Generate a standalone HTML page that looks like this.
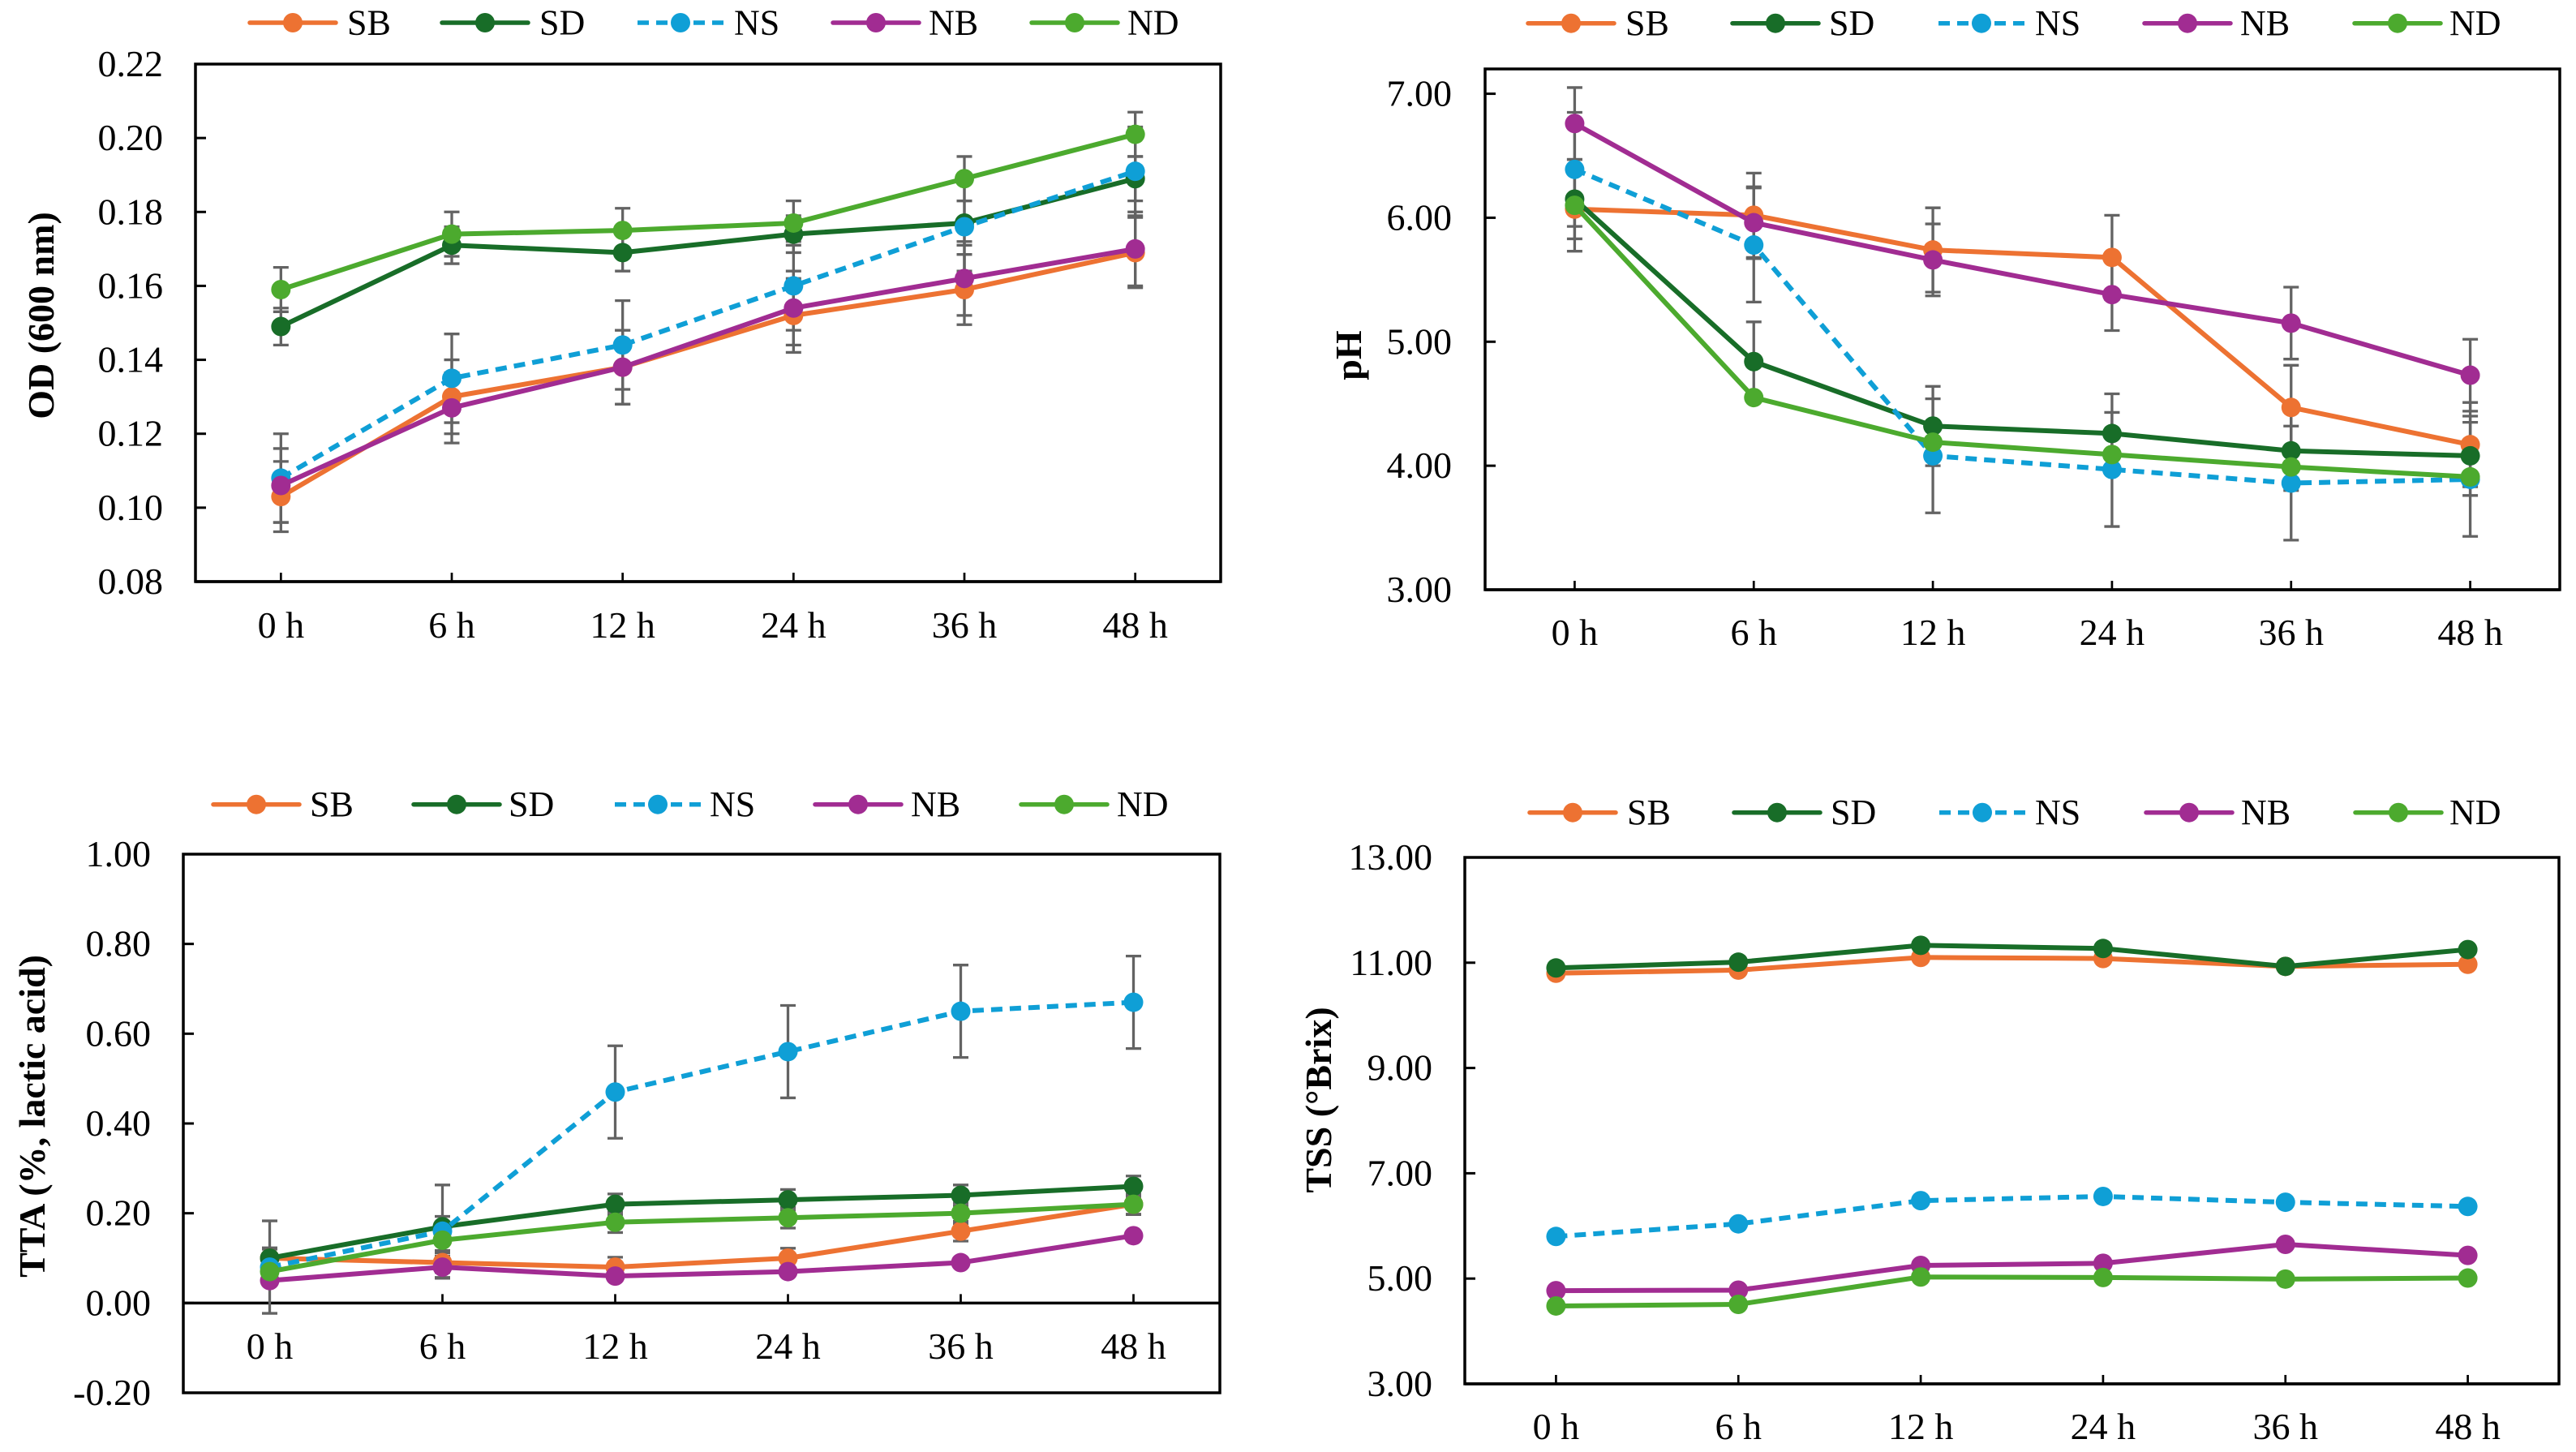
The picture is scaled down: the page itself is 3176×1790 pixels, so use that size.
<!DOCTYPE html>
<html lang="en">
<head>
<meta charset="utf-8">
<title>Fermentation time courses</title>
<style>
html,body{margin:0;padding:0;background:#fff;}
svg{display:block;}
text{font-family:"Liberation Serif",serif;fill:#000;}
</style>
</head>
<body>
<svg id="figure" xmlns="http://www.w3.org/2000/svg" width="3176" height="1790" viewBox="0 0 3176 1790"></svg>
<script>
const categories = ['0 h','6 h','12 h','24 h','36 h','48 h'];
const seriesNames = ['SB','SD','NS','NB','ND'];

const odTicks = ['0.08','0.10','0.12','0.14','0.16','0.18','0.20','0.22'];
const odSB = [0.103,0.130,0.138,0.152,0.159,0.169];
const odSD = [0.149,0.171,0.169,0.174,0.177,0.189];
const odNS = [0.108,0.135,0.144,0.160,0.176,0.191];
const odNB = [0.106,0.127,0.138,0.154,0.162,0.170];
const odND = [0.159,0.174,0.175,0.177,0.189,0.201];
const odErrSB = [0.0095,0.010,0.010,0.010,0.0095,0.0095];
const odErrSD = [0.005,0.005,0.005,0.005,0.006,0.006];
const odErrNS = [0.012,0.012,0.012,0.012,0.012,0.012];
const odErrNB = [0.010,0.0095,0.010,0.010,0.010,0.010];
const odErrND = [0.006,0.006,0.006,0.006,0.006,0.006];

const phTicks = ['3.00','4.00','5.00','6.00','7.00'];
const phSB = [6.07,6.02,5.74,5.68,4.47,4.17];
const phSD = [6.15,4.84,4.32,4.26,4.12,4.08];
const phNS = [6.39,5.78,4.08,3.97,3.86,3.89];
const phNB = [6.76,5.96,5.66,5.38,5.15,4.73];
const phND = [6.10,4.55,4.19,4.09,3.99,3.91];
const phErrSB = [0.34,0.34,0.34,0.34,0.34,0.34];
const phErrSD = [0.32,0.32,0.32,0.32,0.32,0.32];
const phErrNS = [0.46,0.46,0.46,0.46,0.46,0.46];
const phErrNB = [0.29,0.29,0.29,0.29,0.29,0.29];
const phErrND = [0,0,0,0,0,0];

const ttaTicks = ['-0.20','0.00','0.20','0.40','0.60','0.80','1.00'];
const ttaSB = [0.10,0.09,0.08,0.10,0.16,0.22];
const ttaSD = [0.10,0.17,0.22,0.23,0.24,0.26];
const ttaNS = [0.08,0.16,0.47,0.56,0.65,0.67];
const ttaNB = [0.05,0.08,0.06,0.07,0.09,0.15];
const ttaND = [0.07,0.14,0.18,0.19,0.20,0.22];
const ttaErrSB = [0.02,0.022,0.022,0.022,0.022,0.022];
const ttaErrSD = [0.023,0.023,0.023,0.023,0.023,0.023];
const ttaErrNS = [0.103,0.103,0.103,0.103,0.103,0.103];
const ttaErrNB = [0,0.025,0,0,0,0];
const ttaErrND = [0.023,0.023,0.023,0.023,0.023,0.023];

const tssTicks = ['3.00','5.00','7.00','9.00','11.00','13.00'];
const tssSB = [10.80,10.86,11.10,11.08,10.93,10.97];
const tssSD = [10.90,11.01,11.33,11.27,10.93,11.25];
const tssNS = [5.80,6.04,6.48,6.56,6.45,6.37];
const tssNB = [4.77,4.78,5.25,5.29,5.65,5.44];
const tssND = [4.48,4.51,5.03,5.02,4.99,5.01];

const seriesColors = ['#ed7232','#186d28','#0f9fd6','#a12c92','#4caa2e'];
const NS_INDEX = 2;

const panels = [
  {id:'od', title:'OD (600 nm)', ticks:odTicks, values:[odSB,odSD,odNS,odNB,odND], errs:[odErrSB,odErrSD,odErrNS,odErrNB,odErrND],
   min:0.08, max:0.22, left:241, right:1505, top:79, bottom:717, axisValue:0.08,
   labelRight:201, xLabelY:786, titleX:51, titleY:389, legendY:28,
   legendLine:[306,543,784,1025,1270], legendText:[428,665,905,1145,1390]},
  {id:'ph', title:'pH', ticks:phTicks, values:[phSB,phSD,phNS,phNB,phND], errs:[phErrSB,phErrSD,phErrNS,phErrNB,phErrND],
   min:3, max:7.2, left:1831, right:3156, top:85, bottom:727, axisValue:3,
   labelRight:1790, xLabelY:795, titleX:1663, titleY:438, legendY:28.7,
   legendLine:[1882,2134,2388,2642,2901], legendText:[2004,2255,2509,2762,3020]},
  {id:'tta', title:'TTA (%, lactic acid)', ticks:ttaTicks, values:[ttaSB,ttaSD,ttaNS,ttaNB,ttaND], errs:[ttaErrSB,ttaErrSD,ttaErrNS,ttaErrNB,ttaErrND],
   min:-0.2, max:1, left:226, right:1504, top:1053, bottom:1717, axisValue:0,
   labelRight:186, xLabelY:1675, titleX:40, titleY:1376, legendY:991.7,
   legendLine:[261,508,756,1003,1257], legendText:[382,627,875,1123,1377]},
  {id:'tss', title:'TSS (°Brix)', ticks:tssTicks, values:[tssSB,tssSD,tssNS,tssNB,tssND], errs:null,
   min:3, max:13, left:1806, right:3155, top:1057, bottom:1706, axisValue:3,
   labelRight:1766, xLabelY:1774, titleX:1626, titleY:1356, legendY:1001.7,
   legendLine:[1884,2136,2389,2644,2902], legendText:[2006,2257,2509,2763,3020]}
];

const SVGNS = 'http://www.w3.org/2000/svg';
const figure = document.getElementById('figure');

function make(parent, tag, props, content) {
  const el = document.createElementNS(SVGNS, tag);
  for (const k in props) el.setAttribute(k, props[k]);
  if (content !== undefined) el.textContent = content;
  parent.appendChild(el);
  return el;
}

panels.forEach(function (p) {
  const yScale = function (v) { return p.bottom - (v - p.min) / (p.max - p.min) * (p.bottom - p.top); };
  const band = (p.right - p.left) / categories.length;
  const xScale = function (i) { return p.left + band * (i + 0.5); };
  const axisY = yScale(p.axisValue);

  const g = make(figure, 'g', {});
  
  

  const frame = make(g, 'rect', {x:p.left, y:p.top, width:p.right - p.left, height:p.bottom - p.top, fill:'none', stroke:'#000', 'stroke-width':3.5});
  
  

  const zero = make(g, 'line', {x1:p.left, x2:p.right, y1:axisY, y2:axisY, stroke:'#000', 'stroke-width':3.5});
  
  

  p.ticks.forEach(function (t) {
    const v = parseFloat(t);
    const y = yScale(v);
    const tick = make(g, 'line', {x1:p.left, x2:p.left + 13, y1:y, y2:y, stroke:'#000', 'stroke-width':3});
    
    
    const label = make(g, 'text', {x:p.labelRight, y:y + 15, 'font-size':46, 'text-anchor':'end'}, t);
    
    
  });

  categories.forEach(function (c, i) {
    const x = xScale(i);
    const tick = make(g, 'line', {x1:x, x2:x, y1:axisY - 11, y2:axisY, stroke:'#000', 'stroke-width':2.7});
    
    
    const label = make(g, 'text', {x:x, y:p.xLabelY, 'font-size':46, 'text-anchor':'middle'}, c);
    
    
  });

  const title = make(g, 'text', {x:0, y:0, 'font-size':46, 'font-weight':'bold', 'text-anchor':'middle',
    transform:'translate(' + (p.titleX + 15) + ',' + p.titleY + ') rotate(-90)'}, p.title);
  
  

  if (p.errs) {
    p.errs.forEach(function (errs, s) {
      errs.forEach(function (e, i) {
        if (!e) return;
        const x = xScale(i);
        const hi = yScale(p.values[s][i] + e);
        const lo = yScale(p.values[s][i] - e);
        const bar = make(g, 'path', {d:'M' + (x - 9.5) + ' ' + hi + 'H' + (x + 9.5) + 'M' + x + ' ' + hi + 'V' + lo + 'M' + (x - 9.5) + ' ' + lo + 'H' + (x + 9.5),
          fill:'none', stroke:'#636363', 'stroke-width':3.3});
        
        
      });
    });
  }

  p.values.forEach(function (vals, s) {
    const color = seriesColors[s];
    const pts = vals.map(function (v, i) { return xScale(i) + ',' + yScale(v); }).join(' ');
    const props = {points:pts, fill:'none', stroke:color, 'stroke-width':6, 'stroke-linejoin':'round', 'stroke-linecap':'round'};
    if (s === NS_INDEX) { props['stroke-dasharray'] = '14 9'; props['stroke-linecap'] = 'butt'; }
    const line = make(g, 'polyline', props);
    
    
    vals.forEach(function (v, i) {
      const dot = make(g, 'circle', {cx:xScale(i), cy:yScale(v), r:12, fill:color});
      
      
    });
  });

  seriesNames.forEach(function (name, s) {
    const x = p.legendLine[s];
    const y = p.legendY;
    const entry = make(g, 'g', {});
    
    
    const lp = {x1:x + 2, x2:x + 108, y1:y, y2:y, stroke:seriesColors[s], 'stroke-width':5.5, 'stroke-linecap':'round'};
    if (s === NS_INDEX) { lp['stroke-dasharray'] = '14 9'; lp['stroke-linecap'] = 'butt'; }
    make(entry, 'line', lp);
    make(entry, 'circle', {cx:x + 55, cy:y, r:12, fill:seriesColors[s]});
    make(entry, 'text', {x:p.legendText[s], y:y + 14.5, 'font-size':44}, name);
  });
});
</script>
</body>
</html>
